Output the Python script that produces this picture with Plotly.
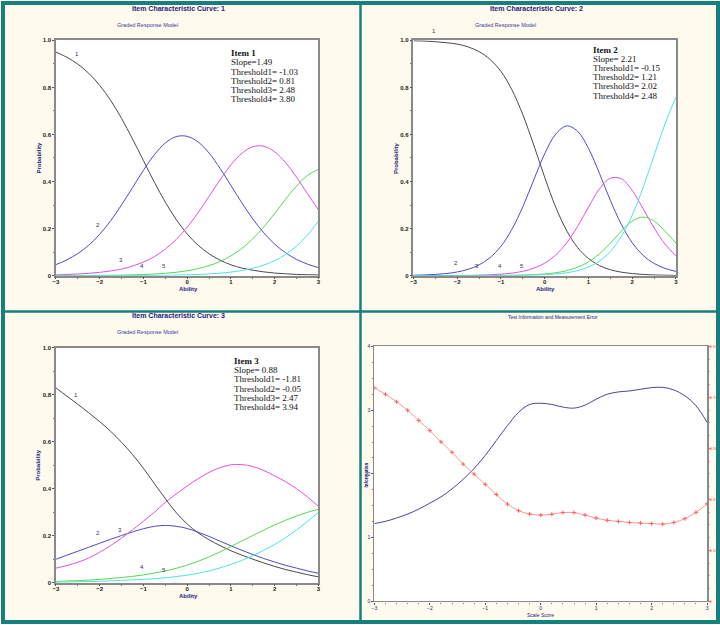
import plotly.graph_objects as go

# ---------------- data ----------------
theta = [-3.0, -2.75, -2.5, -2.25, -2.0, -1.75, -1.5, -1.25, -1.0, -0.75, -0.5, -0.25,
         0.0, 0.25, 0.5, 0.75, 1.0, 1.25, 1.5, 1.75, 2.0, 2.25, 2.5, 2.75, 3.0]

item1_c1 = [0.950, 0.928, 0.899, 0.860, 0.809, 0.745, 0.668, 0.581, 0.489, 0.397, 0.312, 0.238,
            0.177, 0.129, 0.093, 0.066, 0.046, 0.032, 0.023, 0.016, 0.011, 0.008, 0.005, 0.004, 0.003]
item1_c2 = [0.047, 0.067, 0.094, 0.129, 0.176, 0.233, 0.301, 0.374, 0.448, 0.514, 0.564, 0.591,
            0.592, 0.568, 0.521, 0.456, 0.383, 0.309, 0.241, 0.182, 0.134, 0.097, 0.069, 0.049, 0.034]
item1_c3 = [0.003, 0.005, 0.007, 0.010, 0.014, 0.020, 0.028, 0.041, 0.058, 0.081, 0.113, 0.154,
            0.206, 0.268, 0.337, 0.407, 0.471, 0.520, 0.548, 0.550, 0.526, 0.480, 0.418, 0.348, 0.279]
item1_c4 = [0.0002, 0.0004, 0.0005, 0.0008, 0.0011, 0.0016, 0.0023, 0.0033, 0.0048, 0.0069, 0.0100, 0.0144,
            0.0207, 0.0298, 0.0425, 0.0601, 0.0841, 0.116, 0.157, 0.207, 0.2645, 0.325, 0.381, 0.426, 0.452]
item1_c5 = [0.00004, 0.00006, 0.00008, 0.00012, 0.00018, 0.00026, 0.00037, 0.00054, 0.00078, 0.00114, 0.00165, 0.00239,
            0.00347, 0.00501, 0.00727, 0.01051, 0.01518, 0.0219, 0.0315, 0.0450, 0.0640, 0.0903, 0.1260, 0.1729, 0.2329]

item2_c1 = [0.998, 0.997, 0.994, 0.990, 0.984, 0.972, 0.952, 0.919, 0.868, 0.790, 0.684, 0.555,
            0.418, 0.292, 0.192, 0.120, 0.073, 0.043, 0.025, 0.015, 0.009, 0.005, 0.003, 0.002, 0.001]
item2_c2 = [0.0017, 0.0030, 0.0052, 0.0091, 0.0157, 0.0269, 0.0457, 0.0766, 0.125, 0.197, 0.293, 0.407,
            0.518, 0.601, 0.636, 0.614, 0.541, 0.435, 0.320, 0.218, 0.140, 0.086, 0.052, 0.031, 0.018]
item2_c3 = [0.0001, 0.0001, 0.0002, 0.0004, 0.0007, 0.0012, 0.0021, 0.0036, 0.0063, 0.0108, 0.0185, 0.0316,
            0.0531, 0.0874, 0.139, 0.209, 0.291, 0.368, 0.414, 0.412, 0.362, 0.284, 0.203, 0.134, 0.084]
item2_c4 = [0.00001, 0.00001, 0.00002, 0.00003, 0.00009, 0.00015, 0.00027, 0.00047, 0.0008, 0.0014, 0.0024, 0.0042,
            0.0072, 0.0124, 0.0212, 0.0356, 0.0584, 0.0923, 0.138, 0.189, 0.232, 0.249, 0.232, 0.189, 0.138]
item2_c5 = [0.00001, 0.00001, 0.00002, 0.00003, 0.00005, 0.00009, 0.00015, 0.00026, 0.00046, 0.00079, 0.00138, 0.00239,
            0.00415, 0.00719, 0.01241, 0.0214, 0.0366, 0.0619, 0.1029, 0.1662, 0.2572, 0.3756, 0.5110, 0.6449, 0.7593]

item3_c1 = [0.830, 0.795, 0.760, 0.724, 0.686, 0.645, 0.598, 0.546, 0.487, 0.422, 0.358, 0.298,
            0.250, 0.212, 0.183, 0.158, 0.136, 0.117, 0.100, 0.084, 0.069, 0.056, 0.045, 0.034, 0.025]
item3_c2 = [0.100, 0.117, 0.134, 0.151, 0.168, 0.185, 0.201, 0.216, 0.230, 0.240, 0.244, 0.240,
            0.231, 0.215, 0.197, 0.177, 0.157, 0.138, 0.120, 0.103, 0.088, 0.074, 0.062, 0.050, 0.040]
item3_c3 = [0.062, 0.073, 0.087, 0.105, 0.130, 0.158, 0.190, 0.225, 0.262, 0.300, 0.342, 0.378,
            0.412, 0.443, 0.470, 0.490, 0.502, 0.503, 0.495, 0.478, 0.455, 0.430, 0.400, 0.365, 0.325]
item3_c4 = [0.005, 0.007, 0.009, 0.011, 0.014, 0.018, 0.022, 0.027, 0.033, 0.041, 0.050, 0.061,
            0.075, 0.091, 0.110, 0.131, 0.154, 0.178, 0.201, 0.224, 0.246, 0.266, 0.284, 0.300, 0.313]
item3_c5 = [0.002, 0.003, 0.004, 0.005, 0.006, 0.008, 0.010, 0.012, 0.014, 0.017, 0.021, 0.026,
            0.032, 0.040, 0.050, 0.063, 0.078, 0.095, 0.115, 0.138, 0.163, 0.192, 0.225, 0.261, 0.300]

item_params = [
    ["Item 1", "Slope=1.49", "Threshold1= -1.03", "Threshold2= 0.81", "Threshold3= 2.48", "Threshold4= 3.80"],
    ["Item 2", "Slope= 2.21", "Threshold1= -0.15", "Threshold2= 1.21", "Threshold3= 2.02", "Threshold4= 2.48"],
    ["Item 3", "Slope= 0.88", "Threshold1= -1.81", "Threshold2= -0.05", "Threshold3= 2.47", "Threshold4= 3.94"],
]
curve_label_text = ["1", "2", "3", "4", "5"]
curve_label_x = [
    [-2.52, -2.03, -1.52, -1.03, -0.53],
    [-2.53, -2.03, -1.54, -1.03, -0.53],
    [-2.53, -2.03, -1.54, -1.03, -0.53],
]
curve_label_y = [
    [0.941, 0.217, 0.068, 0.041, 0.041],
    [1.038, 0.053, 0.041, 0.041, 0.041],
    [0.800, 0.210, 0.226, 0.068, 0.055],
]

scale_score = [-3.0, -2.8, -2.6, -2.4, -2.2, -2.0, -1.8, -1.6, -1.4, -1.2, -1.0, -0.8, -0.6, -0.4, -0.2,
               0.0, 0.2, 0.4, 0.6, 0.8, 1.0, 1.2, 1.4, 1.6, 1.8, 2.0, 2.2, 2.4, 2.6, 2.8, 3.0]
information = [1.221, 1.257, 1.309, 1.371, 1.449, 1.542, 1.640, 1.765, 1.915, 2.085, 2.292, 2.525, 2.758, 2.965, 3.089,
               3.108, 3.089, 3.048, 3.032, 3.079, 3.172, 3.250, 3.286, 3.301, 3.327, 3.353, 3.358, 3.317, 3.224, 3.069, 2.810]
std_error = [0.779, 0.755, 0.728, 0.697, 0.660, 0.623, 0.582, 0.544, 0.501, 0.464, 0.427, 0.390, 0.355, 0.331, 0.319,
             0.315, 0.318, 0.324, 0.324, 0.315, 0.304, 0.296, 0.292, 0.288, 0.286, 0.284, 0.282, 0.288, 0.302, 0.325, 0.356]

icc_xticks = [-3, -2, -1, 0, 1, 2, 3]
icc_yticks = [0, 0.2, 0.4, 0.6, 0.8, 1.0]
icc_yticktext = ["0", "0.2", "0.4", "0.6", "0.8", "1.0"]
info_yticks = [0, 1, 2, 3, 4]
se_ticks = [0, 0.186, 0.372, 0.558, 0.744, 0.93]
se_ticktext = ["0", "0.19", "0.37", "0.56", "0.74", "0.93"]

# ---------------- styling ----------------
W, H = 720, 625
BG = "#fffaee"
TEAL = "#17807f"
NAVY = "#23237a"
curve_colors = ["#4a4a4a", "#4b4bc8", "#e04fe0", "#55d855", "#4fe2e2"]
SANS = "Liberation Sans, Arial, sans-serif"
NARROW = "Liberation Sans Narrow, Arial Narrow, Liberation Sans, sans-serif"
SERIF = "Liberation Serif, Times New Roman, serif"


def px(x):
    return x / W


def py(y):
    return 1 - y / H


panels = [
    dict(x0=53.3, x1=317.7, y0=37.7, y1=275.3),
    dict(x0=413.3, x1=677.7, y0=37.7, y1=275.3),
    dict(x0=53.3, x1=317.7, y0=348.3, y1=585.3),
]
panel4 = dict(x0=374, x1=709, y0=346.7, y1=604.3)

fig = go.Figure()

items = [
    [item1_c1, item1_c2, item1_c3, item1_c4, item1_c5],
    [item2_c1, item2_c2, item2_c3, item2_c4, item2_c5],
    [item3_c1, item3_c2, item3_c3, item3_c4, item3_c5],
]

annotations = []
layout_axes = {}


def note(x, y, text, font, **kw):
    d = dict(x=x, y=y, xref="paper", yref="paper", text=text, showarrow=False, font=font,
             xanchor="center", yanchor="middle")
    d.update(kw)
    annotations.append(d)


for i, curves in enumerate(items):
    n = "" if i == 0 else str(i + 1)
    for k, vals in enumerate(curves):
        fig.add_trace(go.Scatter(x=theta, y=vals, mode="lines", line=dict(color=curve_colors[k], width=1, shape="spline"),
                                 xaxis="x" + n, yaxis="y" + n, showlegend=False, hoverinfo="skip"))
    p = panels[i]
    layout_axes["xaxis" + n] = dict(domain=[px(p["x0"]), px(p["x1"])], range=[-3, 3], anchor="y" + n,
                                     tickvals=icc_xticks, ticks="outside", ticklen=2, tickcolor="#555",
                                     ticklabelstandoff=-3,
                                     tickfont=dict(family=SANS, size=6, color="#222", weight="bold"),
                                     showgrid=False, zeroline=False, showline=True, linecolor="#8a8a8a",
                                     linewidth=1.5, mirror=True,
                                     minor=dict(dtick=0.5, ticks="outside", ticklen=1.5, tickcolor="#777"))
    layout_axes["yaxis" + n] = dict(domain=[py(p["y1"]), py(p["y0"])], range=[0, 1], anchor="x" + n,
                                     tickvals=icc_yticks, ticktext=icc_yticktext, ticks="outside", ticklen=2,
                                     tickcolor="#555",
                                     tickfont=dict(family=SANS, size=6, color="#222", weight="bold"),
                                     showgrid=False, zeroline=False, showline=True, linecolor="#8a8a8a",
                                     linewidth=1.5, mirror=True,
                                     minor=dict(dtick=0.1, ticks="outside", ticklen=1.5, tickcolor="#777"))
    # curve number labels (placed in paper coords so labels above the axis range stay visible)
    for k in range(5):
        lx = p["x0"] + (curve_label_x[i][k] + 3) / 6 * (p["x1"] - p["x0"])
        ly = p["y1"] - curve_label_y[i][k] * (p["y1"] - p["y0"])
        note(px(lx), py(ly), curve_label_text[k], dict(family=SANS, size=6, color="#333366"))
    # titles
    cx = (p["x0"] + p["x1"]) / 2 - 8.5
    ty = 5.5 if i < 2 else 315.7
    note(px(cx), py(ty), "<b>Item Characteristic Curve: %d</b>" % (i + 1),
         dict(family=SANS, size=7, color=NAVY))
    note(px(p["x0"] + 92.7), py(p["y0"] - 15.7), "Graded Response Model",
         dict(family=SANS, size=5.5, color="#3a3a9a"))
    note(px(p["x0"] - 17.5), py((p["y0"] + p["y1"]) / 2), "<b>Probability</b>",
         dict(family=SANS, size=6, color=NAVY), textangle=-90)
    note(px(cx + 9.5), py(p["y1"] + 13.0), "<b>Ability</b>", dict(family=SANS, size=6, color=NAVY))

# parameter text blocks
param_pos = [(227.3, [50.7, 60.0, 69.3, 78.7, 87.8, 97.0]),
             (592.3, [47.7, 57.0, 66.0, 75.0, 84.3, 94.0]),
             (230.7, [361.7, 371.0, 380.0, 389.3, 398.7, 407.7])]
for i, (x0, ys) in enumerate(param_pos):
    for j, line in enumerate(item_params[i]):
        note(px(x0), py(ys[j]), ("<b>%s</b>" % line) if j == 0 else line,
             dict(family=SERIF, size=9, color="#111"), xanchor="left")

# panel 4: information + standard error
fig.add_trace(go.Scatter(x=scale_score, y=information, mode="lines",
                         line=dict(color="#45459a", width=1, shape="spline"),
                         xaxis="x4", yaxis="y4", showlegend=False, hoverinfo="skip"))
fig.add_trace(go.Scatter(x=scale_score, y=std_error, mode="lines+markers",
                         line=dict(color="#ff7a7a", width=0.8, shape="spline"),
                         marker=dict(symbol="cross-thin", size=3, line=dict(color="#ff6060", width=1)),
                         xaxis="x4", yaxis="y5", showlegend=False, hoverinfo="skip"))

layout_axes["xaxis4"] = dict(domain=[px(panel4["x0"]), px(panel4["x1"])], range=[-3, 3], anchor="y4",
                             tickvals=icc_xticks, ticks="outside", ticklen=2, tickcolor="#555",
                             ticklabelstandoff=-1,
                             tickfont=dict(family=NARROW, size=5, color=NAVY),
                             showgrid=False, zeroline=False, showline=True, linecolor="#8a8a8a", linewidth=1.2,
                             mirror=True, minor=dict(dtick=0.2, ticks="outside", ticklen=1.5, tickcolor="#777"))
layout_axes["yaxis4"] = dict(domain=[py(panel4["y1"]), py(panel4["y0"])], range=[0, 4], anchor="x4",
                             tickvals=info_yticks, ticks="outside", ticklen=2, tickcolor="#555",
                             tickfont=dict(family=NARROW, size=5, color=NAVY),
                             showgrid=False, zeroline=False, showline=True, linecolor="#8a8a8a", linewidth=1.2,
                             minor=dict(dtick=0.25, ticks="outside", ticklen=1.5, tickcolor="#777"))
layout_axes["yaxis5"] = dict(range=[0, 0.93], overlaying="y4", side="right", anchor="x4",
                             tickvals=se_ticks, ticktext=se_ticktext, ticks="outside", ticklen=2, tickcolor="#ff6a6a",
                             ticklabelstandoff=-2,
                             tickfont=dict(family=NARROW, size=4, color="#ff4040"),
                             showgrid=False, zeroline=False, showline=True, linecolor="#8a8a8a", linewidth=1.5,
                             minor=dict(dtick=0.0465, ticks="outside", ticklen=1.5, tickcolor="#ff9090"))

note(px(553.8), py(316.7), "Test Information and Measurement Error", dict(family=NARROW, size=5, color=NAVY))
note(px(366.0), py(476.7), "<b>Information</b>", dict(family=NARROW, size=4.5, color=NAVY), textangle=-90)
note(px(541.7), py(618.3), "Scale Score", dict(family=NARROW, size=5, color=NAVY))

shapes = [
    dict(type="line", xref="paper", yref="paper", x0=0.5, x1=0.5, y0=0, y1=1, line=dict(color=TEAL, width=2.5)),
    dict(type="line", xref="paper", yref="paper", x0=0, x1=1, y0=py(311.5), y1=py(311.5),
         line=dict(color=TEAL, width=2.5)),
    dict(type="rect", xref="paper", yref="paper", x0=0, x1=1, y0=0, y1=1, line=dict(color=TEAL, width=4)),
]

fig.update_layout(width=W, height=H, margin=dict(l=0, r=0, t=0, b=0), paper_bgcolor=BG, plot_bgcolor="white",
                  showlegend=False, annotations=annotations, shapes=shapes, **layout_axes)

fig.write_html("out.html", config={"displayModeBar": False},
               post_script="document.body.style.margin='0px';document.body.style.overflow='hidden';")
